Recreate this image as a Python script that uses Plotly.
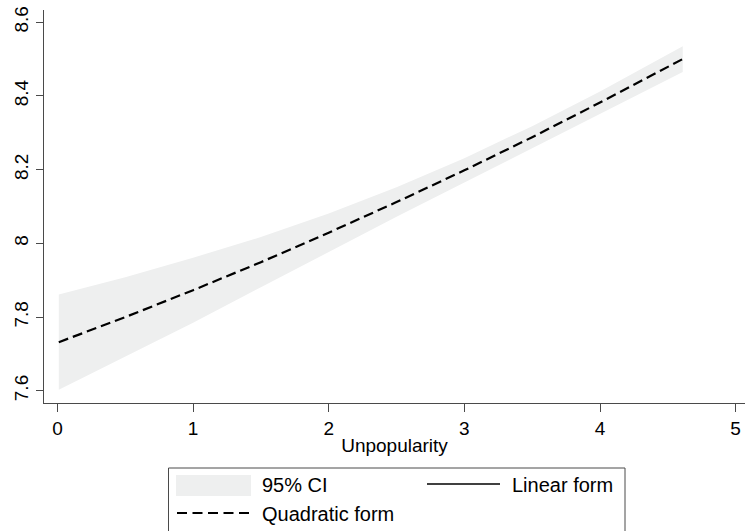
import plotly.graph_objects as go

# Data
x_vals = [0.01, 0.5, 1.0, 1.5, 2.0, 2.5, 3.0, 3.5, 4.0, 4.61]
quad_fit = [7.732, 7.800, 7.873, 7.949, 8.029, 8.112, 8.198, 8.288, 8.382, 8.500]
ci_upper = [7.861, 7.908, 7.961, 8.017, 8.081, 8.152, 8.231, 8.318, 8.412, 8.535]
ci_lower = [7.603, 7.692, 7.785, 7.881, 7.977, 8.072, 8.165, 8.258, 8.352, 8.465]
x_ticks = [0, 1, 2, 3, 4, 5]
y_ticks = [7.6, 7.8, 8.0, 8.2, 8.4, 8.6]
y_tick_text = ["7.6", "7.8", "8", "8.2", "8.4", "8.6"]
legend_labels = ["95% CI", "Linear form", "Quadratic form"]

W, H = 748, 531
L, R, T, B = 44, 3, 10, 128
PW = W - L - R
PH = H - T - B
FONT = "Liberation Sans, Arial, sans-serif"
CI_COLOR = "#eeefef"
AXIS_COLOR = "#4a4a4a"


def px(xp):
    return (xp - L) / PW


def py(yp):
    return (H - B - yp) / PH


fig = go.Figure()
fig.add_trace(go.Scatter(x=x_vals, y=ci_upper, mode="lines", line=dict(width=0),
                         showlegend=False, hoverinfo="skip"))
fig.add_trace(go.Scatter(x=x_vals, y=ci_lower, mode="lines", line=dict(width=0),
                         fill="tonexty", fillcolor=CI_COLOR, name=legend_labels[0],
                         showlegend=False))
fig.add_trace(go.Scatter(x=x_vals, y=quad_fit, mode="lines",
                         line=dict(color="black", width=2.2, dash="10px,5px"),
                         name=legend_labels[2], showlegend=False))

# Manual legend (Stata-style box)
LEG_FONT = dict(size=20, color="black", family=FONT)
shapes = [
    dict(type="rect", xref="paper", yref="paper", x0=px(168.5), x1=px(625), y0=py(560), y1=py(468),
         line=dict(color=AXIS_COLOR, width=1), fillcolor="white", layer="above"),
    dict(type="rect", xref="paper", yref="paper", x0=px(176), x1=px(251), y0=py(496), y1=py(475),
         line=dict(width=0), fillcolor=CI_COLOR, layer="above"),
    dict(type="line", xref="paper", yref="paper", x0=px(427), x1=px(500), y0=py(484), y1=py(484),
         line=dict(color="black", width=1.5), layer="above"),
    dict(type="line", xref="paper", yref="paper", x0=px(177), x1=px(252), y0=py(513), y1=py(513),
         line=dict(color="black", width=1.8, dash="10px,5.5px"), layer="above"),
]
annotations = [
    dict(text=legend_labels[0], x=px(260), y=py(485), xref="paper", yref="paper",
         xanchor="left", yanchor="middle", showarrow=False, font=LEG_FONT),
    dict(text=legend_labels[1], x=px(510), y=py(485), xref="paper", yref="paper",
         xanchor="left", yanchor="middle", showarrow=False, font=LEG_FONT),
    dict(text=legend_labels[2], x=px(260), y=py(514), xref="paper", yref="paper",
         xanchor="left", yanchor="middle", showarrow=False, font=LEG_FONT),
]

fig.update_layout(
    width=W, height=H,
    margin=dict(l=L, r=R, t=T, b=B, autoexpand=False),
    paper_bgcolor="white", plot_bgcolor="white",
    font=dict(family=FONT, color="black"),
    showlegend=False,
    shapes=shapes,
    annotations=annotations,
    xaxis=dict(
        range=[-0.099, 5.069], tickvals=x_ticks, ticktext=[str(v) for v in x_ticks],
        showgrid=False, zeroline=False, showline=True, linecolor=AXIS_COLOR, linewidth=1.2,
        ticks="outside", ticklen=8, tickcolor=AXIS_COLOR, tickwidth=1, automargin=False,
        tickfont=dict(size=19, color="black", family=FONT),
        title=dict(text="Unpopularity", font=dict(size=19, color="black", family=FONT), standoff=0),
    ),
    yaxis=dict(
        range=[7.567, 8.633], tickvals=y_ticks, ticktext=y_tick_text,
        showgrid=False, zeroline=False, showline=True, linecolor=AXIS_COLOR, linewidth=1.2,
        ticks="outside", ticklen=7, tickcolor=AXIS_COLOR, tickwidth=1, tickangle=-90, automargin=False,
        tickfont=dict(size=19, color="black", family=FONT),
    ),
)

fig.write_html("out.html", config={"displayModeBar": False},
               post_script="document.body.style.margin='0';document.body.style.overflow='hidden';")
